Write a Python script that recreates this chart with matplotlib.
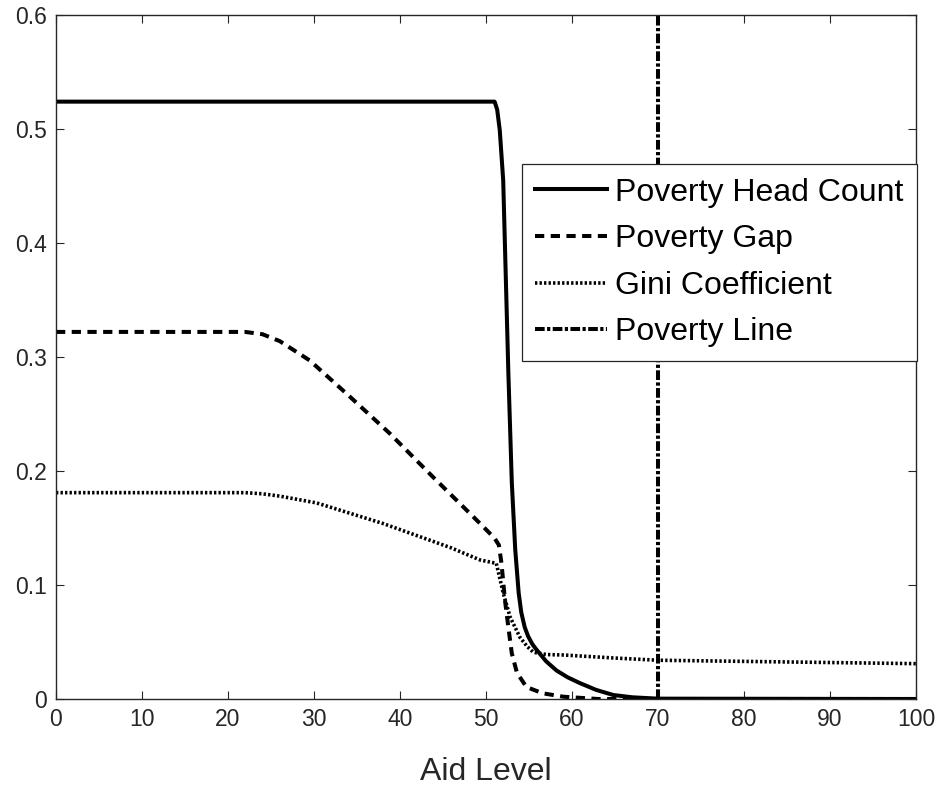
import matplotlib
matplotlib.use("Agg")
import matplotlib.pyplot as plt

plt.rcParams['font.family'] = ['Liberation Sans', 'DejaVu Sans']

# Aid level grid points and the outcome measures read along them
aid_head = [0, 51.0, 51.3, 51.6, 52.0, 52.6, 53.0, 53.4, 53.8, 54.1, 54.5, 54.9, 55.4,
            55.9, 57.0, 58.2, 59.5, 60.9, 62.8, 64.8, 67.0, 70.0, 100]
head_count = [0.524, 0.524, 0.517, 0.499, 0.455, 0.286, 0.19, 0.131, 0.093, 0.076, 0.063,
              0.055, 0.048, 0.043, 0.033, 0.025, 0.019, 0.014, 0.008, 0.0035, 0.0015, 0.0003, 0.0]

aid_gap = [0, 22, 24, 26, 29.5, 34.2, 38.8, 43.8, 48.1, 49.7, 51.0, 51.5,
           51.8, 52.2, 52.6, 53.0, 53.6, 54.7, 56.6, 59.0, 63, 100]
poverty_gap = [0.322, 0.322, 0.320, 0.314, 0.297, 0.265, 0.233, 0.195, 0.163, 0.151, 0.141, 0.135,
               0.119, 0.087, 0.063, 0.040, 0.023, 0.0105, 0.005, 0.002, 0.0, 0.0]

aid_gini = [0, 22, 24, 26, 30.3, 38, 45.8, 49.3, 51.2, 52.0, 52.8, 53.95,
            54.8, 55.5, 57, 59, 64.8, 70, 80, 90, 100]
gini = [0.181, 0.181, 0.180, 0.178, 0.172, 0.154, 0.133, 0.122, 0.119, 0.093, 0.072, 0.054,
        0.046, 0.041, 0.039, 0.0386, 0.036, 0.034, 0.033, 0.032, 0.031]

poverty_line = 70

xticks = [0, 10, 20, 30, 40, 50, 60, 70, 80, 90, 100]
yticks = [0, 0.1, 0.2, 0.3, 0.4, 0.5, 0.6]

axis_color = '#262626'

fig = plt.figure(figsize=(9.39, 7.88), dpi=100)
ax = fig.add_axes([56 / 939, 1 - 699 / 788, 860 / 939, 684 / 788])

ax.plot(aid_head, head_count, color='black', lw=2.9, ls='-',
        solid_joinstyle='round', label='Poverty Head Count')
ax.plot(aid_gap, poverty_gap, color='black', lw=2.9, ls=(0, (2.3, 1.6)),
        label='Poverty Gap')
ax.plot(aid_gini, gini, color='black', lw=2.6, ls=(0, (0.65, 0.6)),
        label='Gini Coefficient')
ax.axvline(poverty_line, color='black', lw=2.9, ls=(0, (2.4, 0.6, 0.8, 0.6)),
           label='Poverty Line')

ax.set_xlim(0, 100)
ax.set_ylim(0, 0.6)
ax.set_xticks(xticks)
ax.set_yticks(yticks)
ax.set_xticklabels([f'{t:g}' for t in xticks])
ax.set_yticklabels([f'{t:g}' for t in yticks])

ax.tick_params(direction='in', length=6, width=0.8, color=axis_color, labelcolor=axis_color,
               labelsize=16.5, top=True, right=True, pad=6.5)
for side in ax.spines.values():
    side.set_color(axis_color)
    side.set_linewidth(1.0)

ax.set_xlabel('Aid Level', fontsize=23, color=axis_color, labelpad=19)

leg = ax.legend(loc='upper left', bbox_to_anchor=(0.5419, 0.782), fontsize=23,
                frameon=True, fancybox=False, framealpha=1, edgecolor=axis_color,
                handlelength=2.25, handletextpad=0.25, labelspacing=0.52,
                borderpad=0.42, borderaxespad=0.0)
leg.get_frame().set_linewidth(0.9)

fig.savefig('out.png', dpi=100, facecolor='white')
